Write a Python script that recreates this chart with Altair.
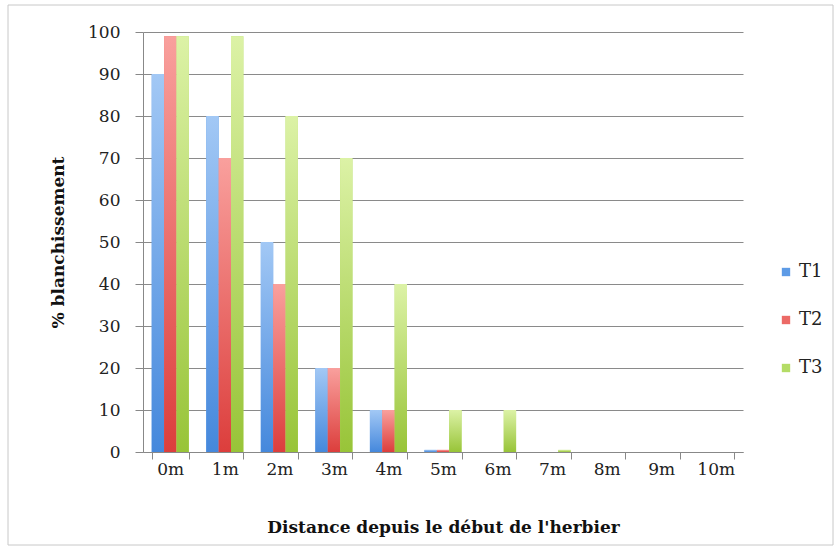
import altair as alt
import pandas as pd

categories = ["0m", "1m", "2m", "3m", "4m", "5m", "6m", "7m", "8m", "9m", "10m"]
t1 = [90, 80, 50, 20, 10, 0.5, 0, 0, 0, 0, 0]
t2 = [99, 70, 40, 20, 10, 0.5, 0, 0, 0, 0, 0]
t3 = [99, 99, 80, 70, 40, 10, 10, 0.5, 0, 0, 0]
series = ["T1", "T2", "T3"]
solid = ["#5d9be6", "#ec6a66", "#b4dc66"]
tops = ["#a2c8f5", "#f9a09d", "#dcf2a6"]
bottoms = ["#4588dc", "#dc3e3c", "#98c438"]

rows = []
for s, vals in zip(series, [t1, t2, t3]):
    for c, v in zip(categories, vals):
        rows.append({"distance": c, "serie": s, "value": v})
df = pd.DataFrame(rows)

FONT = "DejaVu Serif"

x_enc = alt.X("distance:N", sort=categories,
              scale=alt.Scale(paddingInner=0.32, paddingOuter=0.16),
              axis=alt.Axis(title="Distance depuis le début de l'herbier", labelAngle=0,
                            tickBand="extent", tickSize=7, labelPadding=2,
                            titlePadding=42, domainColor="#888", tickColor="#888",
                            labelFont=FONT, titleFont=FONT, labelFontSize=17, titleFontSize=17,
                            labelColor="#222", titleColor="#111", titleFontWeight="bold"))
y_enc = alt.Y("value:Q", scale=alt.Scale(domain=[0, 100]),
              axis=alt.Axis(title="% blanchissement", values=list(range(0, 101, 10)),
                            tickSize=8, labelPadding=15, titlePadding=20,
                            gridColor="#8a8a8a", domainColor="#888", tickColor="#888",
                            labelFont=FONT, titleFont=FONT, labelFontSize=17, titleFontSize=17,
                            labelColor="#222", titleColor="#111", titleFontWeight="bold"))
xo = alt.XOffset("serie:N", scale=alt.Scale(domain=series, paddingInner=0, paddingOuter=0))

base = alt.Chart(df).mark_bar().encode(
    x=x_enc, y=y_enc, xOffset=xo,
    color=alt.Color("serie:N", scale=alt.Scale(domain=series, range=solid),
                    legend=alt.Legend(title=None, orient="none", legendX=634, legendY=231,
                                      symbolType="square", symbolSize=70, rowPadding=30,
                                      labelFontSize=18, labelFont=FONT, labelColor="#222",
                                      symbolStrokeWidth=0)),
)

layers = [base]
for s, top, bot in zip(series, tops, bottoms):
    grad = {"gradient": "linear", "x1": 0, "y1": 0, "x2": 0, "y2": 1,
            "stops": [{"offset": 0, "color": top}, {"offset": 1, "color": bot}]}
    layers.append(
        alt.Chart(df).transform_filter(alt.datum.serie == s).mark_bar(fill=grad).encode(
            x=alt.X("distance:N", sort=categories), y="value:Q", xOffset=xo)
    )

frame = alt.Chart(pd.DataFrame({"a": [0]})).mark_rect(
    fill=None, stroke="#c8c8c8", strokeWidth=1, clip=False
).encode(x=alt.value(-135), x2=alt.value(690), y=alt.value(-27), y2=alt.value(513))

chart = alt.layer(frame, *layers).properties(
    width=600, height=420,
    background="white",
    autosize=alt.AutoSizeParams(type="none"),
    padding={"left": 143, "top": 32, "right": 96, "bottom": 99},
).configure(font=FONT).configure_view(stroke=None).configure_axisX(grid=False).configure_legend(
    labelFont=FONT, labelFontSize=18, labelColor="#222"
)

chart.save("out.html", embed_options={"renderer": "svg", "actions": False})
